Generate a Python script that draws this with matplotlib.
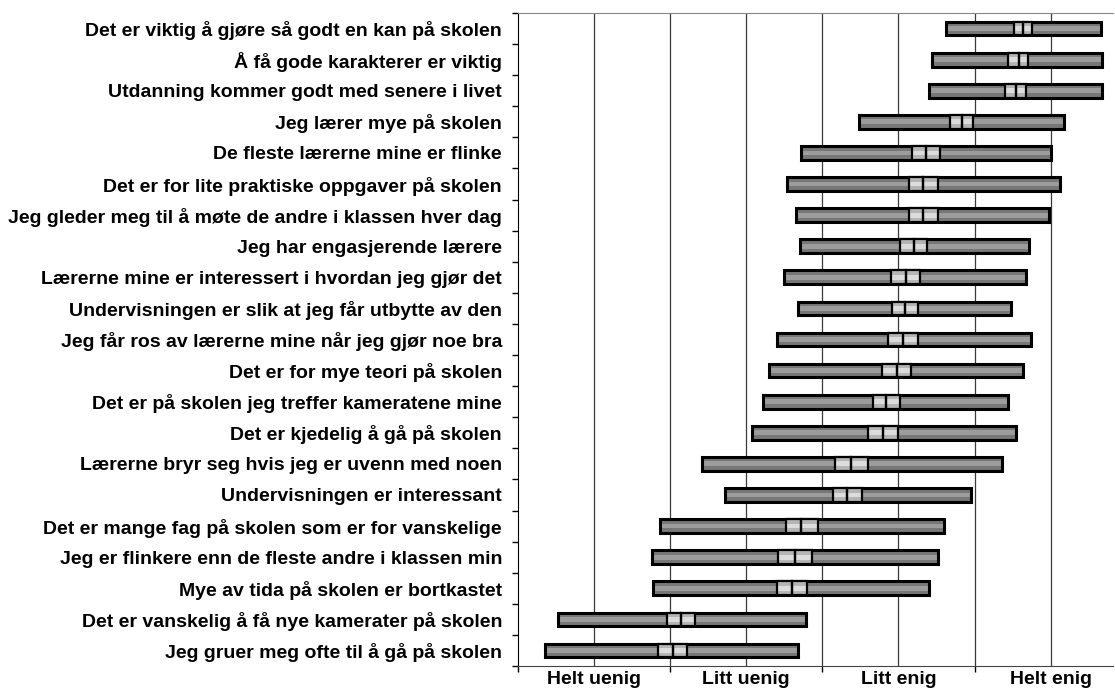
import matplotlib
matplotlib.use("Agg")
import matplotlib.pyplot as plt
from matplotlib.ticker import FixedLocator, NullFormatter

plt.rcParams['font.family'] = ['Liberation Sans', 'DejaVu Sans']

# statements, top to bottom
labels = [
    "Det er viktig å gjøre så godt en kan på skolen",
    "Å få gode karakterer er viktig",
    "Utdanning kommer godt med senere i livet",
    "Jeg lærer mye på skolen",
    "De fleste lærerne mine er flinke",
    "Det er for lite praktiske oppgaver på skolen",
    "Jeg gleder meg til å møte de andre i klassen hver dag",
    "Jeg har engasjerende lærere",
    "Lærerne mine er interessert i hvordan jeg gjør det",
    "Undervisningen er slik at jeg får utbytte av den",
    "Jeg får ros av lærerne mine når jeg gjør noe bra",
    "Det er for mye teori på skolen",
    "Det er på skolen jeg treffer kameratene mine",
    "Det er kjedelig å gå på skolen",
    "Lærerne bryr seg hvis jeg er uvenn med noen",
    "Undervisningen er interessant",
    "Det er mange fag på skolen som er for vanskelige",
    "Jeg er flinkere enn de fleste andre i klassen min",
    "Mye av tida på skolen er bortkastet",
    "Det er vanskelig å få nye kamerater på skolen",
    "Jeg gruer meg ofte til å gå på skolen",
]

# scale: 1 = Helt uenig ... 4 = Helt enig
low = [3.31, 3.22, 3.20, 2.74, 2.36, 2.27, 2.33, 2.35, 2.25, 2.34, 2.20,
       2.15, 2.11, 2.04, 1.71, 1.86, 1.43, 1.38, 1.39, 0.76, 0.68]
ci_low = [3.76, 3.72, 3.70, 3.34, 3.09, 3.07, 3.07, 3.01, 2.95, 2.96, 2.93,
          2.89, 2.83, 2.80, 2.58, 2.57, 2.26, 2.21, 2.20, 1.48, 1.42]
mean = [3.82, 3.79, 3.77, 3.42, 3.18, 3.16, 3.16, 3.10, 3.05, 3.04, 3.03,
        2.99, 2.92, 2.90, 2.69, 2.66, 2.36, 2.32, 2.30, 1.57, 1.52]
ci_high = [3.88, 3.85, 3.84, 3.49, 3.27, 3.26, 3.26, 3.19, 3.14, 3.13, 3.13,
           3.08, 3.01, 3.00, 2.80, 2.76, 2.47, 2.43, 2.40, 1.66, 1.61]
high = [4.33, 4.34, 4.34, 4.09, 4.00, 4.06, 3.99, 3.86, 3.84, 3.74, 3.87,
        3.82, 3.72, 3.77, 3.68, 3.48, 3.30, 3.26, 3.20, 2.39, 2.34]

scale_labels = ["Helt uenig", "Litt uenig", "Litt enig", "Helt enig"]

fig = plt.figure(figsize=(11.15, 6.89), dpi=100)
ax = fig.add_axes([0.4646, 0.0334, 0.5336, 0.9477])

y = list(range(len(labels)))
h = 0.44

# grid lines
for gx in [1, 1.5, 2, 2.5, 3, 3.5, 4]:
    ax.axvline(gx, color="#3a3a3a", lw=0.9, zorder=1)

for i in y:
    w = high[i] - low[i]
    # outer bar with a lighter streak
    ax.barh(i, w, left=low[i], height=h, color="#777777", lw=0, zorder=2)
    ax.barh(i, w, left=low[i], height=h * 0.35, color="#9c9c9c", lw=0, zorder=2)
    ax.barh(i, w, left=low[i], height=h, fill=False, edgecolor="black", lw=2.2, zorder=3)
    # confidence box, split at the mean
    for a, b in [(ci_low[i], mean[i]), (mean[i], ci_high[i])]:
        ax.barh(i, b - a, left=a, height=h, color="#b5b5b5", lw=0, zorder=4)
        ax.barh(i, b - a, left=a, height=h * 0.35, color="#dcdcdc", lw=0, zorder=4)
        ax.barh(i, b - a, left=a, height=h, fill=False, edgecolor="black", lw=1.6, zorder=5)

ax.set_xlim(0.5, 4.41)
ax.set_ylim(len(labels) - 0.5, -0.5)

# y: ticks at row boundaries, labels at row centres
ax.yaxis.set_major_locator(FixedLocator([k - 0.5 for k in range(len(labels) + 1)]))
ax.yaxis.set_major_formatter(NullFormatter())
ax.yaxis.set_minor_locator(FixedLocator(y))
ax.set_yticklabels(labels, minor=True, fontsize=14, fontweight="bold")
ax.tick_params(axis="y", which="major", length=4, width=1, direction="out")
ax.tick_params(axis="y", which="minor", length=0, pad=11.5)

# x: ticks between categories, labels on the categories
ax.xaxis.set_major_locator(FixedLocator([0.5, 1.5, 2.5, 3.5]))
ax.xaxis.set_major_formatter(NullFormatter())
ax.xaxis.set_minor_locator(FixedLocator([1, 2, 3, 4]))
ax.set_xticklabels(scale_labels, minor=True, fontsize=14, fontweight="bold")
ax.tick_params(axis="x", which="major", length=4, width=1, direction="out")
ax.tick_params(axis="x", which="minor", length=0, pad=3.5)

ax.spines["right"].set_visible(False)
ax.spines["top"].set_color("#888888")
ax.spines["left"].set_color("black")
ax.spines["bottom"].set_color("#444444")

fig.savefig("out.png", dpi=100)
